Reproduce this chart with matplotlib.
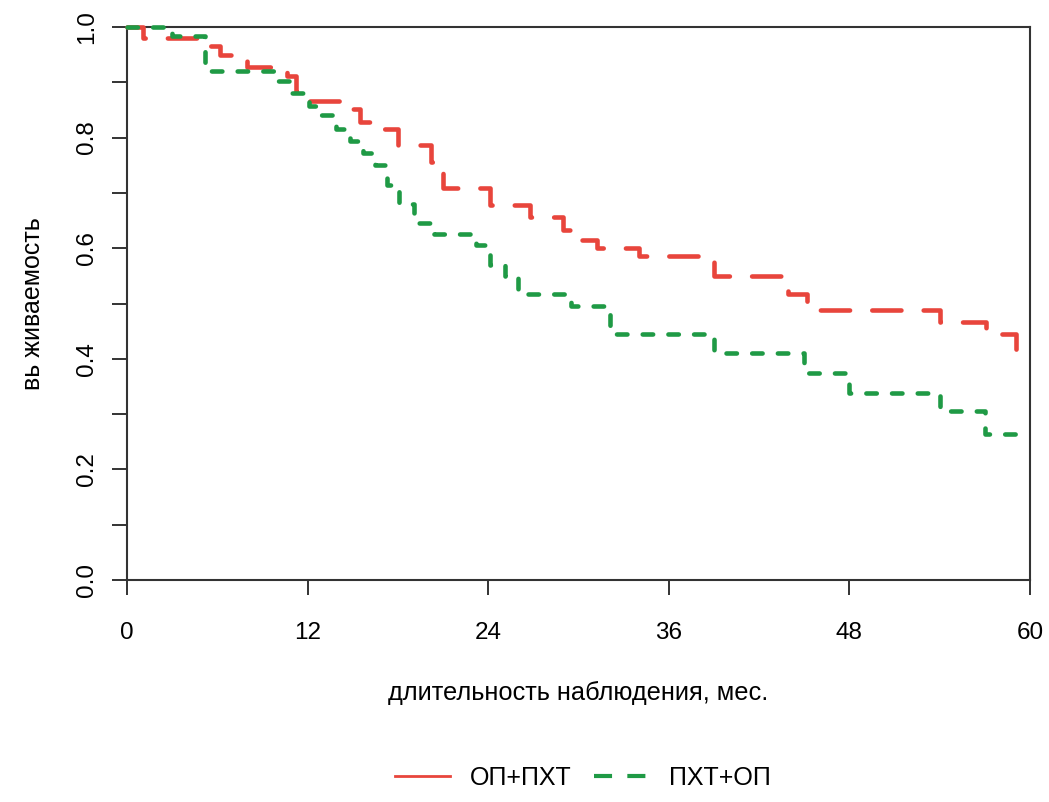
import matplotlib
matplotlib.use("Agg")
import matplotlib.pyplot as plt
from matplotlib.lines import Line2D
import numpy as np

plt.rcParams['font.family'] = ['Liberation Sans', 'DejaVu Sans']
plt.rcParams['lines.scale_dashes'] = False

# Data
red_label = "ОП+ПХТ"
green_label = "ПХТ+ОП"
red_t = [0, 1.05, 5.3, 6.2, 8.0, 10.6, 11.2, 12.0, 14.6, 15.5, 16.8, 18.0, 20.2, 21.0,
         24.1, 26.8, 29.0, 30.0, 31.2, 34.0, 39.0, 43.9, 45.2, 54.0, 57.1, 59.1]
red_s = [1.0, 0.98, 0.965, 0.949, 0.927, 0.911, 0.882, 0.867, 0.851, 0.829, 0.815, 0.786, 0.756, 0.709,
         0.678, 0.656, 0.633, 0.615, 0.600, 0.585, 0.550, 0.518, 0.489, 0.467, 0.445, 0.415]
green_t = [0, 3.0, 5.2, 9.9, 10.8, 12.1, 12.9, 13.9, 14.8, 15.7, 16.5, 17.3, 18.1, 19.1, 20.4,
           23.2, 24.1, 25.1, 26.0, 29.5, 32.1, 39.0, 45.0, 48.0, 54.0, 57.0]
green_s = [1.0, 0.983, 0.92, 0.902, 0.88, 0.857, 0.84, 0.815, 0.793, 0.772, 0.751, 0.715, 0.68, 0.645, 0.625,
           0.605, 0.57, 0.55, 0.518, 0.495, 0.444, 0.411, 0.375, 0.338, 0.305, 0.264]
t_end = 59.7
x_ticks = [0, 12, 24, 36, 48, 60]
y_ticks = [0.0, 0.1, 0.2, 0.3, 0.4, 0.5, 0.6, 0.7, 0.8, 0.9, 1.0]
y_ticklabels = ["0.0", "", "0.2", "", "0.4", "", "0.6", "", "0.8", "", "1.0"]
x_label = "длительность наблюдения, мес."
y_label = "вь живаемость"

RED = '#E8453C'
GREEN = '#1F9A45'

fig = plt.figure(figsize=(10.49, 8.02), dpi=100)
ax = fig.add_axes([127/1049, (802-580)/802, 903/1049, 553/802])

rt = red_t + [t_end]
rs = red_s + [red_s[-1]]
gt = green_t + [t_end]
gs = green_s + [green_s[-1]]

ax.step(rt, rs, where='post', color=RED, lw=3.3, dashes=(21, 16),
        dash_capstyle='round', clip_on=False, zorder=3)
ax.step(gt, gs, where='post', color=GREEN, lw=3.3, dashes=(7.5, 11), dash_capstyle='round',
        clip_on=False, zorder=3)

ax.set_xlim(0, 60)
ax.set_ylim(0, 1.0)
ax.set_xticks(x_ticks)
ax.set_xticklabels([str(v) for v in x_ticks])
ax.set_yticks(y_ticks)
ax.set_yticklabels(y_ticklabels, rotation=90, va='center')

for sp in ax.spines.values():
    sp.set_linewidth(1.5)
    sp.set_color('#333333')

ax.tick_params(axis='both', length=11, width=1.4, color='#333333', labelsize=17.5)
ax.tick_params(axis='x', pad=19)
ax.tick_params(axis='y', pad=10)

ax.set_xlabel(x_label, fontsize=18.3, labelpad=27)
ax.set_ylabel(y_label, fontsize=18, labelpad=22)

handles = [Line2D([0], [0], color=RED, lw=2.0),
           Line2D([0], [0], color=GREEN, lw=3.0, dashes=(13, 11))]
fig.legend(handles, [red_label, green_label], loc='center',
           bbox_to_anchor=(583/1049, 1 - 778/802), ncol=2, frameon=False,
           fontsize=18, handlelength=2.2, columnspacing=0.9, handletextpad=0.8)

fig.savefig('out.png', dpi=100)
